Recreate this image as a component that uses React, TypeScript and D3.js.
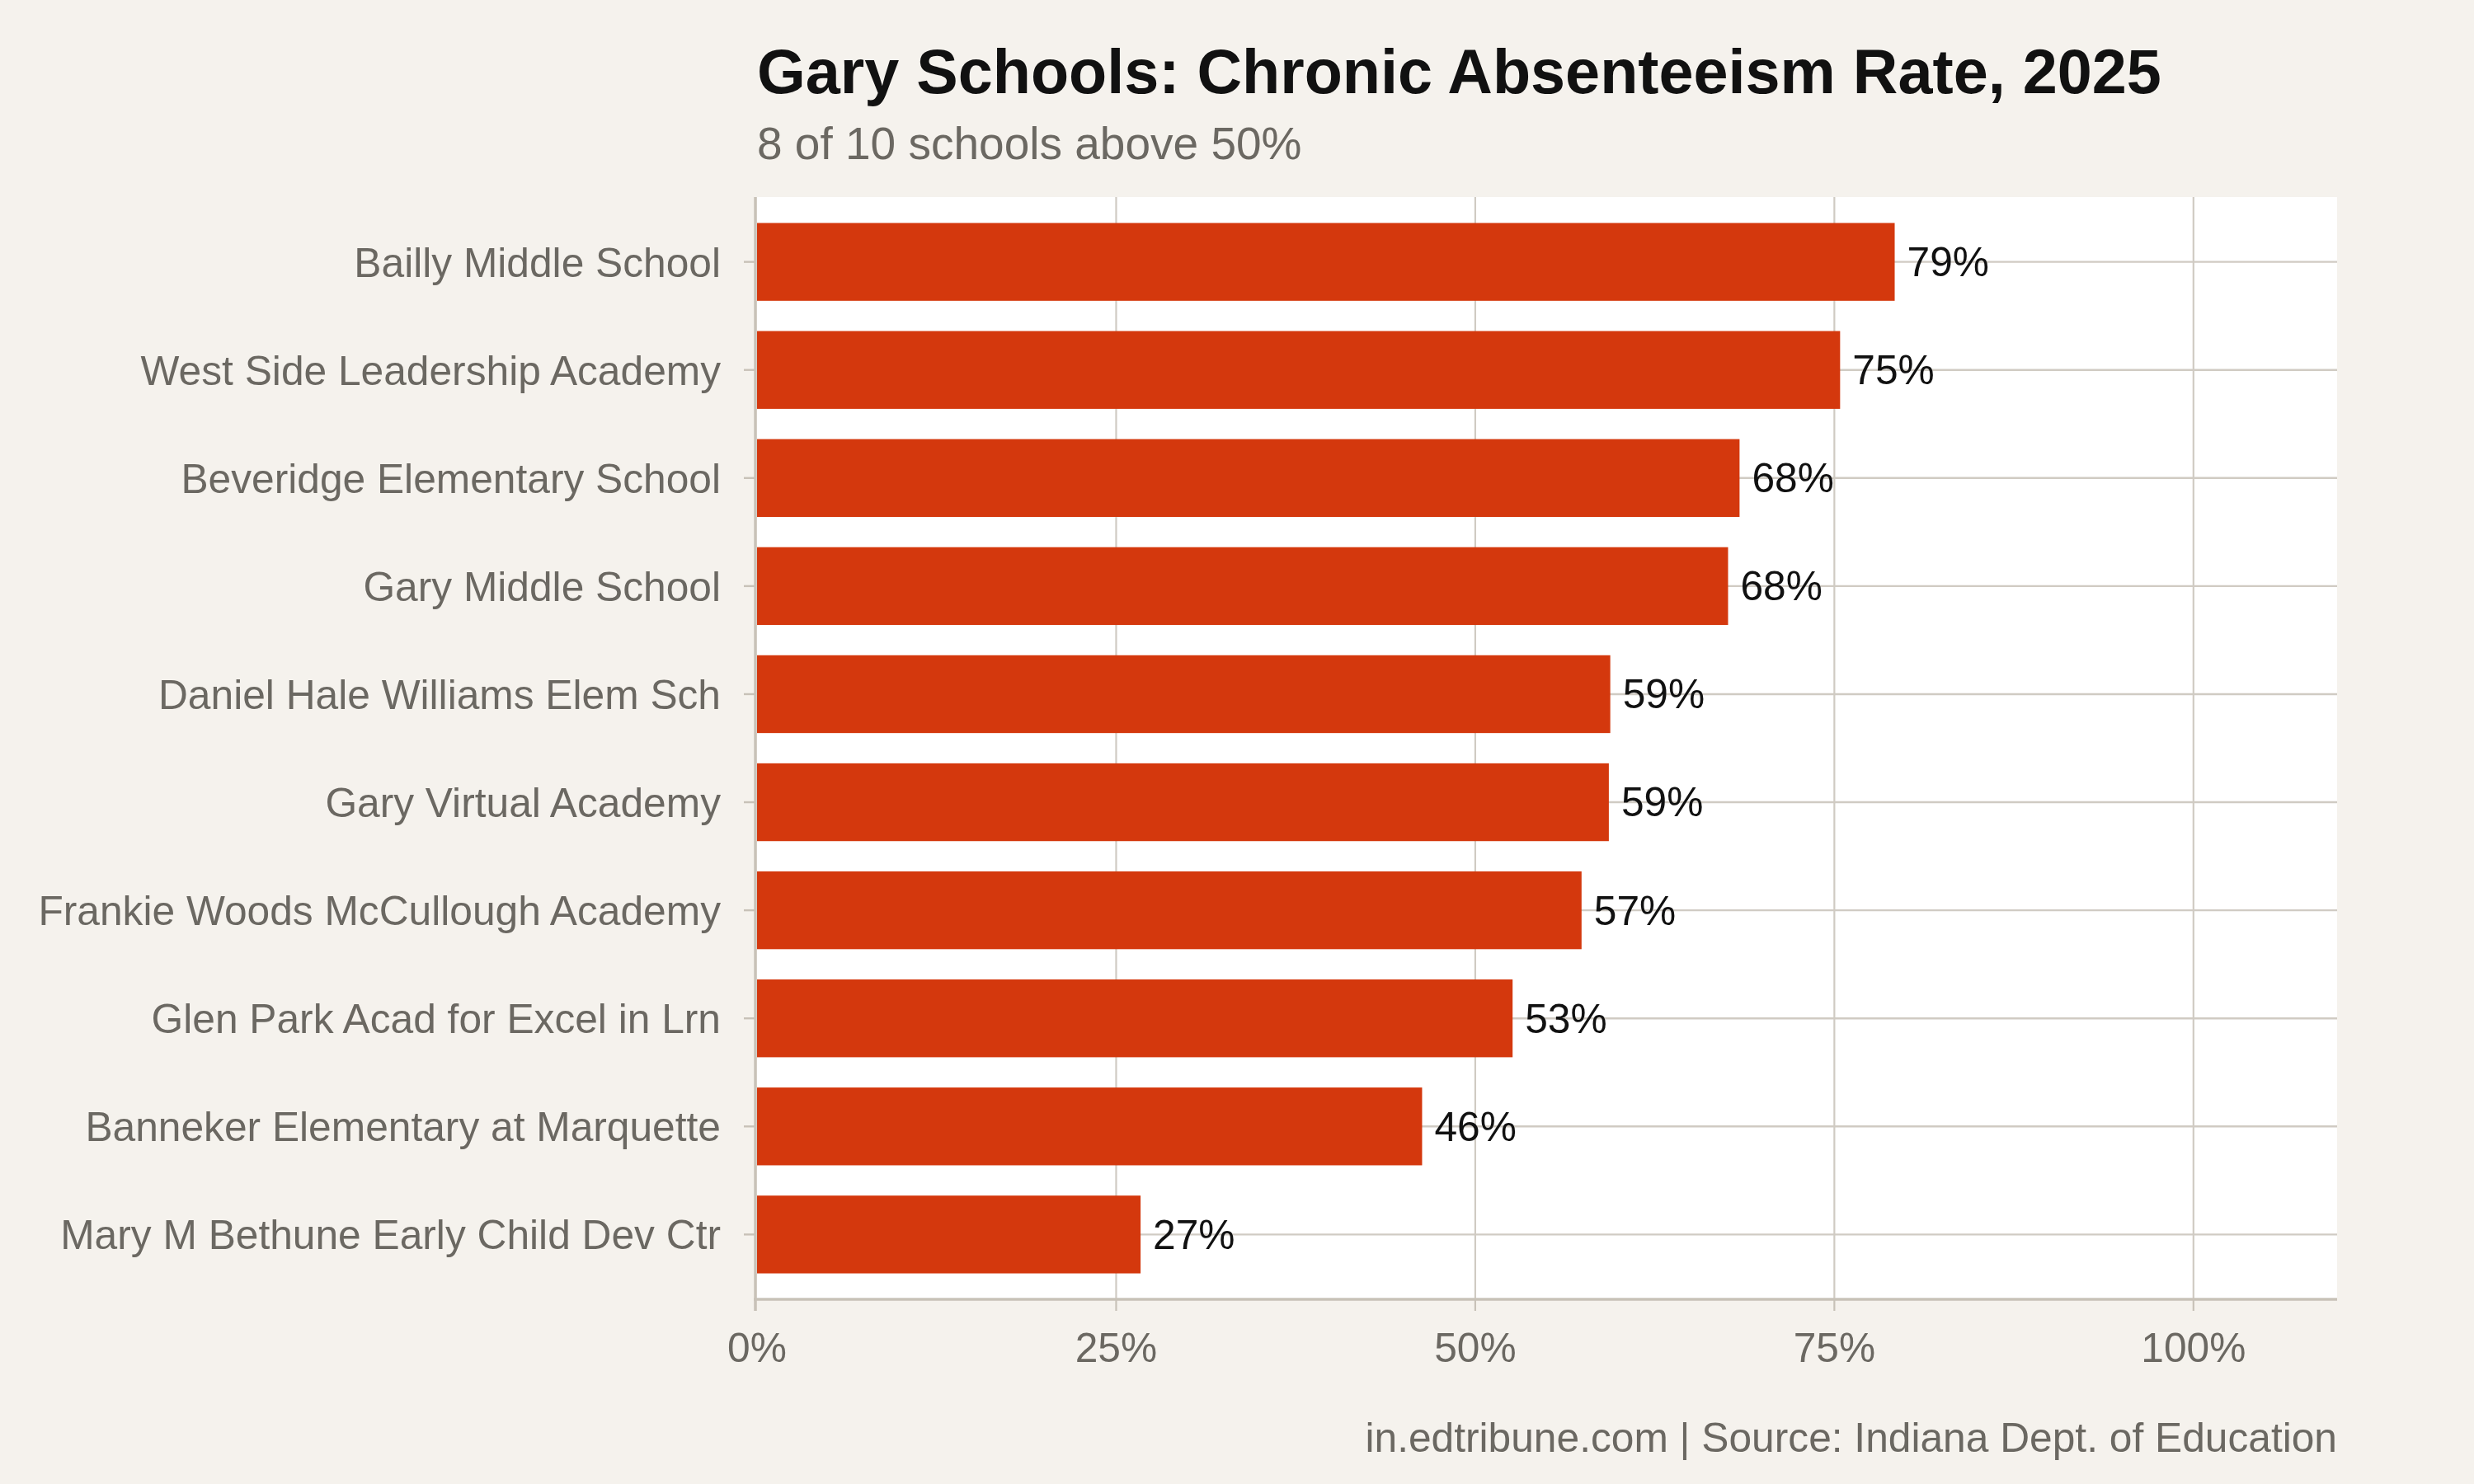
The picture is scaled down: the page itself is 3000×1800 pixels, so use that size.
import React from "react";
import * as d3 from "d3";

// schools, top to bottom
const schools = [
  "Bailly Middle School",
  "West Side Leadership Academy",
  "Beveridge Elementary School",
  "Gary Middle School",
  "Daniel Hale Williams Elem Sch",
  "Gary Virtual Academy",
  "Frankie Woods McCullough Academy",
  "Glen Park Acad for Excel in Lrn",
  "Banneker Elementary at Marquette",
  "Mary M Bethune Early Child Dev Ctr",
];

// chronic absenteeism rate (share)
const rates = [0.792, 0.754, 0.684, 0.676, 0.594, 0.593, 0.574, 0.526, 0.463, 0.267];

const xTicks = [0, 0.25, 0.5, 0.75, 1.0];
const xTickLabels = ["0%", "25%", "50%", "75%", "100%"];

const title = "Gary Schools: Chronic Absenteeism Rate, 2025";
const subtitle = "8 of 10 schools above 50%";
const caption = "in.edtribune.com | Source: Indiana Dept. of Education";

const W = 3000;
const H = 1800;
const panel = { left: 918, right: 2834, top: 239, bottom: 1576 };

const FONT = "'Liberation Sans', Arial, Helvetica, sans-serif";
const BG = "#f5f2ed";
const GRID = "#d0cbc3";
const AXIS = "#c8c2b8";
const GREY = "#6b6862";
const BAR = "#d4380d";
const LABEL_SIZE = 49.7;

const App = () => {
  const x = d3.scaleLinear().domain([0, 1.1]).range([panel.left, panel.right]);
  const y = d3
    .scalePoint<string>()
    .domain(schools)
    .range([panel.top, panel.bottom])
    .padding(0.6);
  const barH = y.step() * 0.72;

  return (
    <div style={{ position: "absolute", left: 0, top: 0 }}>
      <svg width={W} height={H} style={{ display: "block" }} fontFamily={FONT}>
        <rect x={0} y={0} width={W} height={H} fill={BG} />

        {/* title block */}
        <text x={panel.left} y={113} fontSize={75.6} fontWeight="bold" fill="#111">
          {title}
        </text>
        <text x={panel.left} y={193} fontSize={55} fill={GREY}>
          {subtitle}
        </text>

        {/* panel */}
        <rect
          x={panel.left}
          y={panel.top}
          width={panel.right - panel.left}
          height={panel.bottom - panel.top}
          fill="#fff"
        />

        {/* grid */}
        {xTicks.slice(1).map((t) => (
          <line
            key={"gx" + t}
            x1={x(t)}
            x2={x(t)}
            y1={panel.top}
            y2={panel.bottom}
            stroke={GRID}
            strokeWidth={2.2}
          />
        ))}
        {schools.map((s) => (
          <line
            key={"gy" + s}
            x1={panel.left}
            x2={panel.right}
            y1={y(s)}
            y2={y(s)}
            stroke={GRID}
            strokeWidth={2.4}
          />
        ))}

        {/* bars */}
        {schools.map((s, i) => (
          <rect
            key={"b" + s}
            x={x(0)}
            y={(y(s) as number) - barH / 2}
            width={x(rates[i]) - x(0)}
            height={barH}
            fill={BAR}
          />
        ))}

        {/* value labels */}
        {schools.map((s, i) => (
          <text
            key={"v" + s}
            x={x(rates[i]) + 15}
            y={y(s)}
            dy="0.35em"
            fontSize={LABEL_SIZE}
            fill="#111"
          >
            {Math.round(rates[i] * 100) + "%"}
          </text>
        ))}

        {/* axes */}
        <line
          x1={panel.left - 2}
          x2={panel.left - 2}
          y1={panel.top}
          y2={panel.bottom + 14}
          stroke={AXIS}
          strokeWidth={3.5}
        />
        <line
          x1={panel.left - 4}
          x2={panel.right}
          y1={panel.bottom}
          y2={panel.bottom}
          stroke={AXIS}
          strokeWidth={3.5}
        />
        {xTicks.map((t, i) => (
          <g key={"xt" + t}>
            <line
              x1={x(t) - (i === 0 ? 2 : 0)}
              x2={x(t) - (i === 0 ? 2 : 0)}
              y1={panel.bottom}
              y2={panel.bottom + 14}
              stroke={AXIS}
              strokeWidth={2.2}
            />
            <text x={x(t)} y={1652} fontSize={LABEL_SIZE} fill={GREY} textAnchor="middle">
              {xTickLabels[i]}
            </text>
          </g>
        ))}
        {schools.map((s) => (
          <g key={"yt" + s}>
            <line
              x1={panel.left - 16}
              x2={panel.left - 3}
              y1={y(s)}
              y2={y(s)}
              stroke={AXIS}
              strokeWidth={2.4}
            />
            <text
              x={874}
              y={y(s)}
              dy="0.36em"
              fontSize={LABEL_SIZE}
              fill={GREY}
              textAnchor="end"
            >
              {s}
            </text>
          </g>
        ))}

        {/* caption */}
        <text x={panel.right} y={1761} fontSize={LABEL_SIZE} fill={GREY} textAnchor="end">
          {caption}
        </text>
      </svg>
    </div>
  );
};

export default App;
